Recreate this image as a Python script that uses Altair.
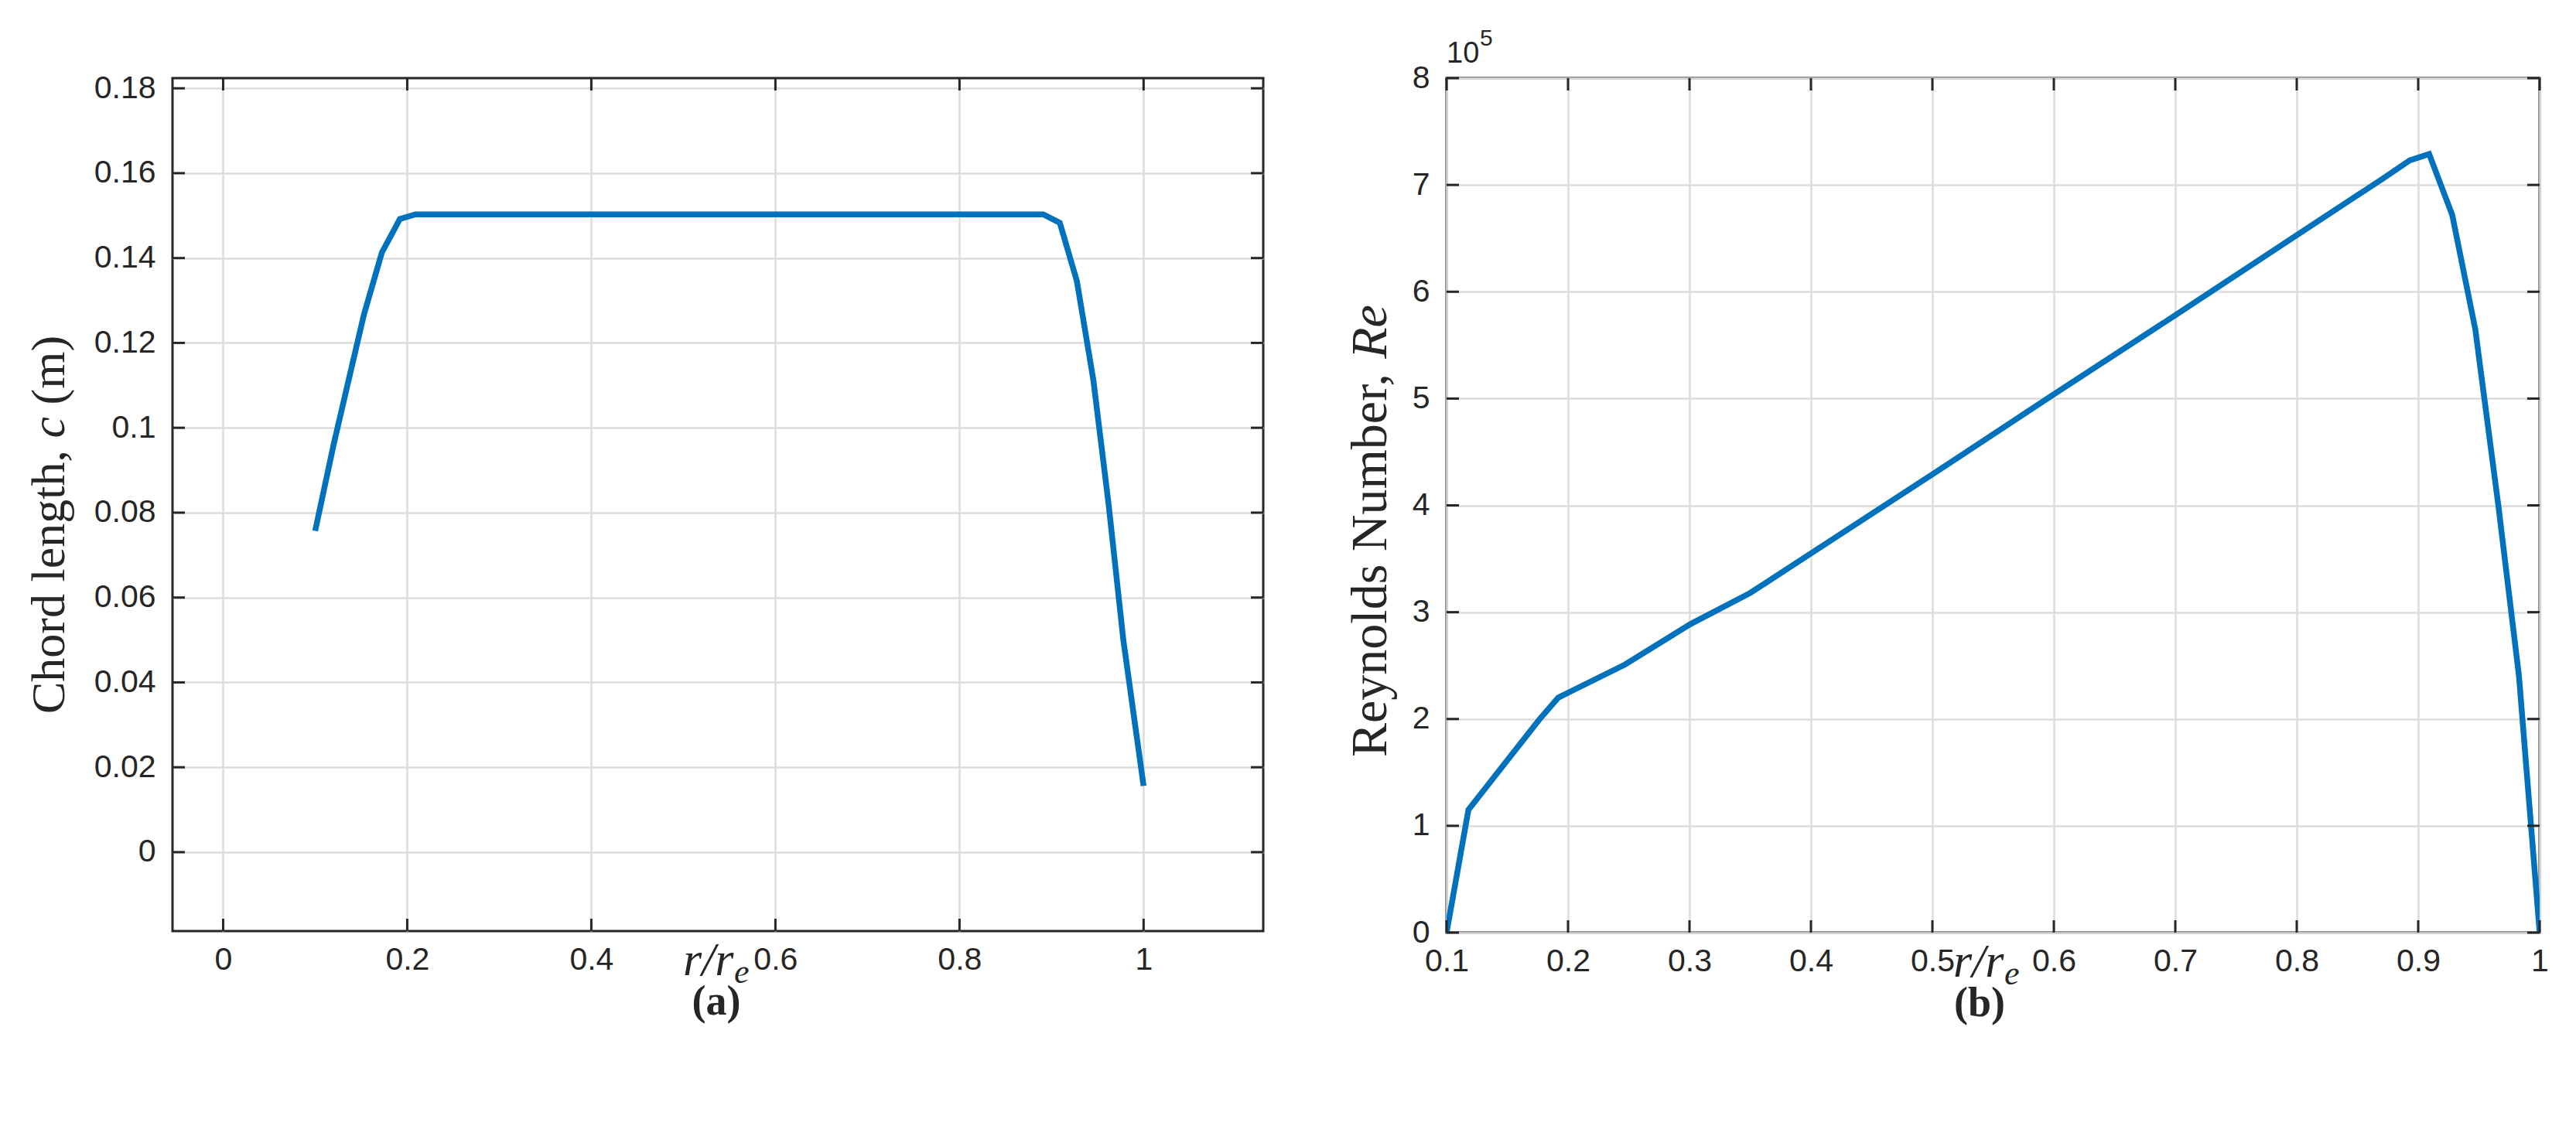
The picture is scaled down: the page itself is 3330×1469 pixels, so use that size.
import altair as alt
import pandas as pd

# ---------------- data ----------------
r_chord = [0.100, 0.120, 0.135, 0.153, 0.1725, 0.192, 0.209, 0.891, 0.909, 0.9275, 0.9454, 0.962, 0.978, 1.000]
chord_m = [0.0757, 0.0960, 0.1100, 0.1267, 0.1413, 0.1492, 0.1503, 0.1503, 0.1483, 0.1346, 0.1113, 0.0820, 0.0500, 0.0156]

r_re = [0.100, 0.118, 0.147, 0.176, 0.192, 0.247, 0.301, 0.350, 0.400, 0.500, 0.600, 0.700,
        0.800, 0.871, 0.893, 0.909, 0.928, 0.947, 0.966, 0.983, 1.000]
reynolds = [0, 115000, 157000, 199000, 220000, 251000, 289000, 318000, 355000, 429000, 504000, 578000,
            653000, 706000, 723000, 729000, 672000, 565000, 400000, 240000, 0]

left_x_ticks = [0, 0.2, 0.4, 0.6, 0.8, 1]
left_y_ticks = [0, 0.02, 0.04, 0.06, 0.08, 0.1, 0.12, 0.14, 0.16, 0.18]
right_x_ticks = [0.1, 0.2, 0.3, 0.4, 0.5, 0.6, 0.7, 0.8, 0.9, 1]
right_y_ticks = [0, 100000, 200000, 300000, 400000, 500000, 600000, 700000, 800000]

left_x_domain = [-0.055, 1.13]
left_y_domain = [-0.0186, 0.1824]
right_x_domain = [0.1, 1.0]
right_y_domain = [0, 800000]

# ---------------- style ----------------
LINE = "#0072BD"
AX = "#262626"
GRID = "#dcdcdc"
SANS = "Liberation Sans"
SERIF = "Liberation Serif"
TICK_FS = 41
TICK_LEN = 16

W1, H1 = 1410, 1103
W2, H2 = 1413, 1105


def text_layer(txt, x, y, size, style="normal", weight="normal", angle=0, align="left",
               baseline="alphabetic", font=SERIF):
    return alt.Chart(pd.DataFrame({"k": [0]})).mark_text(
        text=txt, font=font, fontSize=size, fontStyle=style, fontWeight=weight,
        angle=angle, align=align, baseline=baseline, color=AX
    ).encode(x=alt.value(x), y=alt.value(y))


def panel(r, v, xdom, ydom, xticks, yticks, W, H, ylabel_expr=None):
    xs = alt.Scale(domain=xdom, nice=False, zero=False)
    ys = alt.Scale(domain=ydom, nice=False, zero=False)
    common_axis = dict(grid=True, gridColor=GRID, gridWidth=2.5, domain=False, ticks=False,
                       labelFont=SANS, labelFontSize=TICK_FS, labelColor=AX,
                       labelFlush=False, labelOverlap=False, title=None)
    yaxis_kw = dict(common_axis, values=yticks, labelPadding=22)
    if ylabel_expr:
        yaxis_kw["labelExpr"] = ylabel_expr
    else:
        yaxis_kw["format"] = "~g"
    xa = alt.Axis(values=xticks, format="~g", labelPadding=17, **common_axis)
    ya = alt.Axis(**yaxis_kw)
    df = pd.DataFrame({"r": r, "v": v})
    line = alt.Chart(df).mark_line(color=LINE, strokeWidth=7.5, clip=True).encode(
        x=alt.X("r:Q", scale=xs, axis=xa),
        y=alt.Y("v:Q", scale=ys, axis=ya),
    )
    xt = alt.Chart(pd.DataFrame({"r": xticks}))
    yt = alt.Chart(pd.DataFrame({"v": yticks}))
    rule = dict(color=AX, strokeWidth=3)
    tb = xt.mark_rule(**rule).encode(x=alt.X("r:Q", scale=xs, axis=xa), y=alt.value(H), y2=alt.value(H - TICK_LEN))
    tt = xt.mark_rule(**rule).encode(x=alt.X("r:Q", scale=xs, axis=xa), y=alt.value(0), y2=alt.value(TICK_LEN))
    tl = yt.mark_rule(**rule).encode(y=alt.Y("v:Q", scale=ys, axis=ya), x=alt.value(0), x2=alt.value(TICK_LEN))
    tr = yt.mark_rule(**rule).encode(y=alt.Y("v:Q", scale=ys, axis=ya), x=alt.value(W - TICK_LEN), x2=alt.value(W))
    return [line, tb, tt, tl, tr]


# ---------------- panel (a) ----------------
FA = 62
ka = FA / 1000.0
a_layers = panel(r_chord, chord_m, left_x_domain, left_y_domain, left_x_ticks, left_y_ticks, W1, H1)
a_bottom = 822
a_layers += [
    text_layer("Chord length,", -140, a_bottom, FA, angle=270),
    text_layer("c", -140, a_bottom - 5750 * ka, FA, style="italic", angle=270),
    text_layer("(m)", -140, a_bottom - 6444 * ka, FA, angle=270),
    text_layer("r/r", 660, H1 + 57, 62, style="italic"),
    text_layer("e", 726, H1 + 67, 44, style="italic"),
    text_layer("(a)", 703, H1 + 108, 54, weight="bold", align="center"),
]
chart_a = alt.layer(*a_layers).properties(width=W1, height=H1)

# ---------------- panel (b) ----------------
FB = 66
kb = FB / 1000.0
b_layers = panel(r_re, reynolds, right_x_domain, right_y_domain, right_x_ticks, right_y_ticks, W2, H2,
                 ylabel_expr="datum.value / 100000")
b_bottom = 878
b_layers += [
    text_layer("Reynolds Number,", -78, b_bottom, FB, angle=270),
    text_layer("Re", -78, b_bottom - 7805 * kb, FB, style="italic", angle=270),
    text_layer("r/r", 655, H2 + 57, 62, style="italic"),
    text_layer("e", 721, H2 + 67, 44, style="italic"),
    text_layer("(b)", 689, H2 + 108, 54, weight="bold", align="center"),
    text_layer("10", 0, -20, 38, font=SANS),
    text_layer("5", 43, -42, 30, font=SANS),
]
chart_b = alt.layer(*b_layers).properties(width=W2, height=H2)

chart = alt.hconcat(chart_a, chart_b, spacing=237, bounds="flush").properties(
    padding={"left": 31, "top": 33, "right": 10, "bottom": 10},
    background="white",
).configure_view(stroke=AX, strokeWidth=3)

chart.save("out.html", embed_options={"renderer": "svg", "actions": False})
